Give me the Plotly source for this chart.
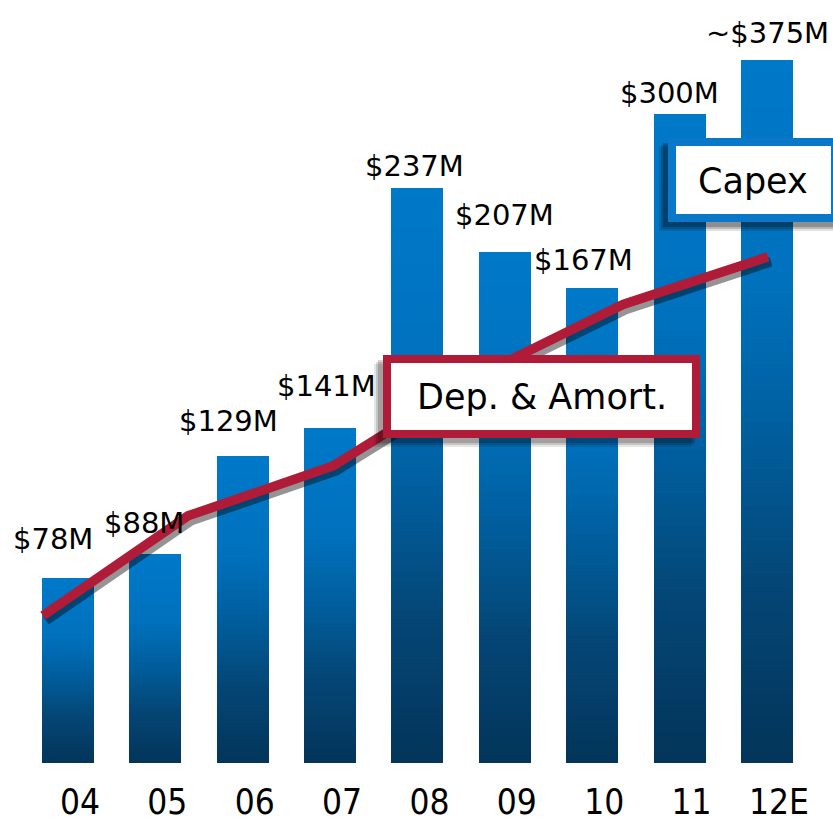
import numpy as np
import plotly.graph_objects as go

# ---------------- data ----------------
years = ["04", "05", "06", "07", "08", "09", "10", "11", "12E"]
capex_labels = ["$78M", "$88M", "$129M", "$141M", "$237M", "$207M", "$167M", "$300M", "~$375M"]
capex_drawn = [78, 88, 129, 141, 242, 215, 200, 273, 296]      # bar heights as drawn
dna_points = [0, 1, 2, 3, 4, 5]
dna_values = [62, 104, 125, 163, 193, 213]                      # Dep. & Amort. line

# ---------------- layout constants ----------------
W, H = 833, 821
PLOT_H = 763                     # plot area height in px (bottom margin 58)
Y_MAX = 321.1                    # y range top
X_RANGE = [-0.778, 8.756]
X2_RANGE = [-0.2966, 5.448]
BLUE_BORDER = "#0a78c8"
RED = "#b01c37"

def px_x(px):
    return px / W

def px_y(py):
    return 1 - py / PLOT_H

# gradient for bars (fraction from bottom -> colour)
stops = [(0.0, (3, 53, 89)), (0.25, (4, 70, 118)), (0.5, (0, 97, 162)),
         (0.68, (0, 113, 189)), (1.0, (0, 121, 201))]

def grad_color(f):
    for (f0, c0), (f1, c1) in zip(stops[:-1], stops[1:]):
        if f0 <= f <= f1:
            t = (f - f0) / (f1 - f0)
            c = [round(a + (b - a) * t) for a, b in zip(c0, c1)]
            return "rgb(%d,%d,%d)" % tuple(c)
    return "rgb(%d,%d,%d)" % stops[-1][1]

fig = go.Figure()

N = 60
vals = np.array(capex_drawn, dtype=float)
for k in range(N):
    fig.add_trace(go.Bar(
        x=years, y=vals / N, width=0.595,
        marker=dict(color=grad_color((k + 0.5) / N), line=dict(width=0)),
        hoverinfo="skip", showlegend=False,
    ))

# line shadow (offset 3px right, 5px down) and line
dx = 3 * (X2_RANGE[1] - X2_RANGE[0]) / W
dy = 5 * Y_MAX / PLOT_H
fig.add_trace(go.Scatter(
    x=[p + dx for p in dna_points], y=[v - dy for v in dna_values],
    xaxis="x2", mode="lines", line=dict(color="rgba(0,0,0,0.42)", width=9.5),
    hoverinfo="skip", showlegend=False,
))
fig.add_trace(go.Scatter(
    x=dna_points, y=dna_values, xaxis="x2", mode="lines",
    line=dict(color=RED, width=9.5), hoverinfo="skip", showlegend=False,
))

# value labels
label_dx = [-15, -11, -14, -4, -3, 0, -9, -10, 1]
label_dy = [20, 12, 16, 23, 3, 18, 9, 2, 8]
annotations = []
for i, (lab, v, ddx, ddy) in enumerate(zip(capex_labels, capex_drawn, label_dx, label_dy)):
    annotations.append(dict(
        x=i, y=v, xref="x", yref="y", text=lab, showarrow=False,
        xanchor="center", yanchor="bottom", xshift=ddx, yshift=ddy,
        font=dict(family="DejaVu Sans", size=29, color="black"),
    ))

# legend-like boxes
shapes = []
# Capex box shadow + box
for off, op in [(9, 0.12), (7, 0.18), (5, 0.22)]:
    shapes.append(dict(type="rect", xref="paper", yref="paper", layer="above",
                       x0=px_x(668 - off), x1=px_x(840), y0=px_y(138 + off), y1=px_y(222 + off),
                       fillcolor="rgba(0,0,0,%.2f)" % op, line=dict(width=0)))
shapes.append(dict(type="rect", xref="paper", yref="paper", layer="above",
                   x0=px_x(672), x1=px_x(835), y0=px_y(142), y1=px_y(218),
                   fillcolor="white", line=dict(color=BLUE_BORDER, width=8)))
# Dep box shadow + box
for off, op in [(9, 0.10), (7, 0.14), (5, 0.18)]:
    shapes.append(dict(type="rect", xref="paper", yref="paper", layer="above",
                       x0=px_x(383 - off), x1=px_x(700 - off), y0=px_y(355 + off), y1=px_y(438 + off),
                       fillcolor="rgba(0,0,0,%.2f)" % op, line=dict(width=0)))
shapes.append(dict(type="rect", xref="paper", yref="paper", layer="above",
                   x0=px_x(387), x1=px_x(696), y0=px_y(359), y1=px_y(434),
                   fillcolor="white", line=dict(color=RED, width=8)))

annotations.append(dict(x=px_x(753), y=px_y(181), xref="paper", yref="paper",
                        text="Capex", showarrow=False, xanchor="center", yanchor="middle",
                        font=dict(family="DejaVu Sans", size=35, color="black")))
annotations.append(dict(x=px_x(542), y=px_y(397), xref="paper", yref="paper",
                        text="Dep. &amp; Amort.", showarrow=False, xanchor="center", yanchor="middle",
                        font=dict(family="DejaVu Sans", size=35, color="black")))

fig.update_layout(
    width=W, height=H, barmode="stack", bargap=0,
    margin=dict(l=0, r=0, t=0, b=H - PLOT_H),
    paper_bgcolor="white", plot_bgcolor="white",
    showlegend=False, hovermode=False,
    xaxis=dict(type="category", range=X_RANGE, showgrid=False, zeroline=False,
               showline=False, ticks="", ticklabelshift=12, ticklabelstandoff=15,
               tickfont=dict(family="DejaVu Sans Condensed, DejaVu Sans",
                             size=35, color="black")),
    xaxis2=dict(overlaying="x", range=X2_RANGE, visible=False),
    yaxis=dict(range=[0, Y_MAX], visible=False, showgrid=False, zeroline=False),
    shapes=shapes, annotations=annotations,
)

fig.write_html("out.html", config={"displayModeBar": False},
               post_script="document.body.style.margin='0';document.body.style.overflow='hidden';")
